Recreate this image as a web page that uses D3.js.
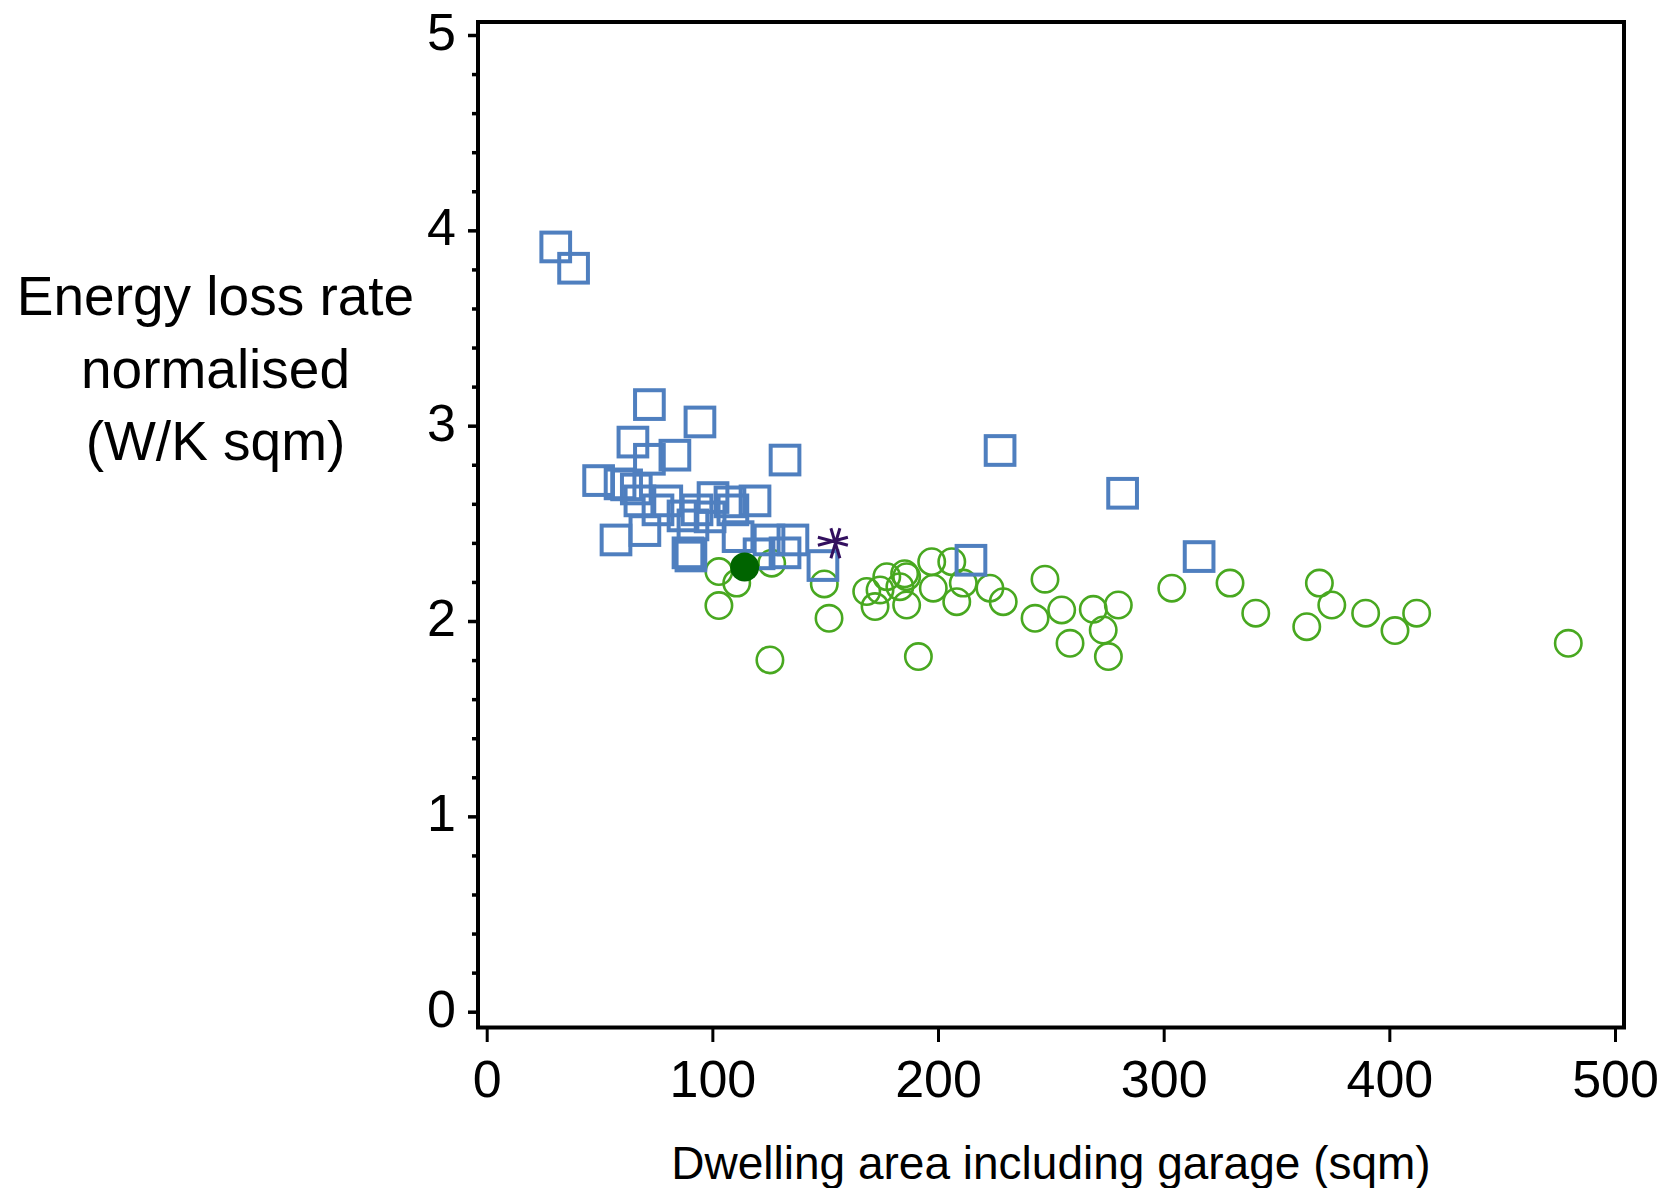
<!DOCTYPE html>
<html lang="en">
<head>
    <meta charset="UTF-8">
    <title>Energy loss rate vs dwelling area</title>
    <script src="https://d3js.org/d3.v7.min.js"></script>
    <style>
        body {
            margin: 0;
            background: #fff;
            font-family: "Liberation Sans", Arial, sans-serif;
        }
        svg text {
            fill: #000;
        }
    </style>
</head>
<body>
    <svg id="chart" width="1663" height="1188"></svg>

    <script>
        // Axis ticks
        const xTicks = [0, 100, 200, 300, 400, 500];
        const yTicks = [0, 1, 2, 3, 4, 5];
        const yMinorTicks = d3.range(0, 5.01, 0.2).filter(v => Math.abs(v - Math.round(v)) > 0.01);

        const xTitle = "Dwelling area including garage (sqm)";
        const yTitle = ["Energy loss rate", "normalised", "(W/K sqm)"];

        // Blue squares: area (sqm), loss rate
        const squareArea = [30.6, 38.5, 72.1, 94.5, 64.8, 83.4, 132.2, 72.1, 49.6, 59.1,
            66.3, 67.9, 79.8, 100.3, 118.9, 107.8, 75.9, 93.2, 109.1, 87.0,
            99.0, 57.3, 70.1, 91.4, 89.2, 90.5, 111.4, 125.1, 135.7, 120.7,
            132.2, 149.0, 227.5, 281.8, 315.7, 214.6, 62.0];
        const squareRate = [3.915, 3.806, 3.108, 3.019, 2.916, 2.849, 2.824, 2.828, 2.719, 2.702,
            2.676, 2.615, 2.615, 2.632, 2.615, 2.610, 2.569, 2.569, 2.569, 2.538,
            2.533, 2.415, 2.463, 2.492, 2.349, 2.333, 2.432, 2.415, 2.415, 2.344,
            2.349, 2.284, 2.873, 2.654, 2.330, 2.311, 2.697];

        // Green open circles: area (sqm), loss rate
        const circleArea = [102.9, 102.9, 110.8, 125.5, 126.3, 149.6, 151.7, 168.4, 177.3, 186.1,
            183.1, 174.3, 172.1, 186.1, 197.2, 206.1, 197.9, 208.3, 211.2, 223.0,
            228.9, 191.3, 247.4, 243.0, 254.8, 258.5, 268.8, 279.9, 273.2, 275.5,
            303.6, 329.4, 340.8, 369.0, 374.5, 363.4, 389.5, 402.5, 412.1, 479.3,
            185.2];
        const circleRate = [2.253, 2.079, 2.194, 1.801, 2.296, 2.190, 2.014, 2.151, 2.227, 2.227,
            2.176, 2.159, 2.074, 2.082, 2.304, 2.304, 2.168, 2.099, 2.194, 2.168,
            2.099, 1.818, 2.214, 2.014, 2.057, 1.886, 2.060, 2.082, 1.954, 1.818,
            2.168, 2.194, 2.040, 2.194, 2.082, 1.971, 2.040, 1.951, 2.040, 1.886,
            2.242];

        // Single highlighted dwellings
        const filledPoint = [114.3, 2.276];
        const starPoint = [154.3, 2.398];

        const blue = "#4f7fbf", green = "#48a820", darkGreen = "#006400", purple = "#33105f";

        const svg = d3.select("#chart");

        const x = d3.scaleLinear().domain([0, 500]).range([486.7, 1615]);
        const y = d3.scaleLinear().domain([0, 5]).range([1011.7, 35]);

        const frame = {left: 478, top: 22, right: 1624, bottom: 1027.5};

        // Frame
        svg.append("rect")
            .attr("x", frame.left)
            .attr("y", frame.top)
            .attr("width", frame.right - frame.left)
            .attr("height", frame.bottom - frame.top)
            .attr("fill", "none")
            .attr("stroke", "#000")
            .attr("stroke-width", 4);

        // Y axis, minor ticks first
        svg.append("g")
            .attr("transform", `translate(${frame.left},0)`)
            .call(d3.axisLeft(y).tickValues(yMinorTicks).tickSize(6).tickFormat(""))
            .call(g => g.select(".domain").remove())
            .call(g => g.selectAll("line").attr("stroke-width", 3.5));

        svg.append("g")
            .attr("transform", `translate(${frame.left},0)`)
            .call(d3.axisLeft(y).tickValues(yTicks).tickSize(10).tickPadding(12).tickFormat(d3.format("d")))
            .call(g => g.select(".domain").remove())
            .call(g => g.selectAll("line").attr("stroke-width", 3.5))
            .call(g => g.selectAll("text")
                .attr("dy", "0.28em")
                .attr("font-size", 52)
                .attr("font-family", "'Liberation Sans', Arial, sans-serif"));

        // X axis
        svg.append("g")
            .attr("transform", `translate(0,${frame.bottom + 1.5})`)
            .call(d3.axisBottom(x).tickValues(xTicks).tickSize(13).tickPadding(18).tickFormat(d3.format("d")))
            .call(g => g.select(".domain").remove())
            .call(g => g.selectAll("line").attr("stroke-width", 3))
            .call(g => g.selectAll("text")
                .attr("font-size", 52)
                .attr("font-family", "'Liberation Sans', Arial, sans-serif"));

        // Axis titles
        svg.append("text")
            .attr("x", 1051)
            .attr("y", 1179)
            .attr("text-anchor", "middle")
            .attr("font-size", 46)
            .text(xTitle);

        svg.append("g")
            .selectAll("text")
            .data(yTitle)
            .join("text")
            .attr("x", 215.5)
            .attr("y", (d, i) => 315 + i * 72.5)
            .attr("text-anchor", "middle")
            .attr("font-size", 55)
            .text(d => d);

        // Green circles
        svg.append("g")
            .selectAll("circle")
            .data(d3.zip(circleArea, circleRate))
            .join("circle")
            .attr("cx", d => x(d[0]))
            .attr("cy", d => y(d[1]))
            .attr("r", 13.2)
            .attr("fill", "none")
            .attr("stroke", green)
            .attr("stroke-width", 2.6);

        // Blue squares
        const side = 28.7;
        svg.append("g")
            .selectAll("rect")
            .data(d3.zip(squareArea, squareRate))
            .join("rect")
            .attr("x", d => x(d[0]) - side / 2)
            .attr("y", d => y(d[1]) - side / 2)
            .attr("width", side)
            .attr("height", side)
            .attr("fill", "none")
            .attr("stroke", blue)
            .attr("stroke-width", 4);

        // Filled dot
        svg.append("circle")
            .attr("cx", x(filledPoint[0]))
            .attr("cy", y(filledPoint[1]))
            .attr("r", 14.5)
            .attr("fill", darkGreen);

        // Star marker (4 crossing strokes)
        const star = {
            draw(ctx) {
                const arms = [[-4, -15, 5, 15], [5, -15, -4, 15], [-17, -6, 13, 2], [-17, 2, 13, -6]];
                arms.forEach(a => { ctx.moveTo(a[0], a[1]); ctx.lineTo(a[2], a[3]); });
            }
        };
        svg.append("path")
            .attr("transform", `translate(${x(starPoint[0])},${y(starPoint[1])})`)
            .attr("d", d3.symbol(star)())
            .attr("fill", "none")
            .attr("stroke", purple)
            .attr("stroke-width", 3);
    </script>
</body>
</html>
